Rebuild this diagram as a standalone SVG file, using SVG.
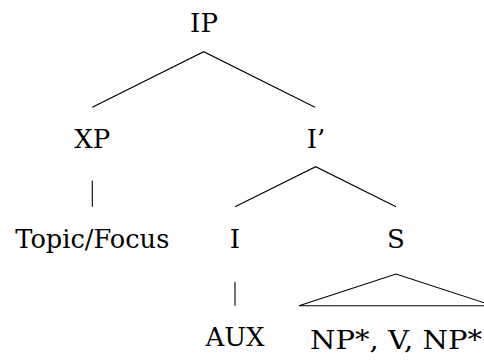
<svg xmlns="http://www.w3.org/2000/svg" width="484" height="360" viewBox="0 0 484 360">
<defs>
<style>
.t{font-family:'DejaVu Serif',serif;font-size:26px;fill:#000;text-anchor:middle}
.e{stroke:#000;stroke-width:1.1;fill:none}
</style>
</defs>
<rect width="484" height="360" fill="#fff"/>
<g id="connectors">
<path class="e" d="M92.3,107.3 L203.7,51.7 L315,107.3"/>
<path class="e" d="M235,206.7 L315.7,166.7 L396,206.7"/>
<path class="e" d="M92.3,180.5 V206.7"/>
<path class="e" d="M235,281.7 V305.7"/>
<path class="e" d="M299,305.7 L396,274 L493,305.7 Z"/>
</g>
<g id="IP"><text class="t" x="204" y="31.7">IP</text></g>
<g id="XP"><text class="t" x="92.3" y="148">XP</text></g>
<g id="Ibar"><text class="t" x="316" y="148">I’</text></g>
<g id="TopicFocus"><text class="t" x="92.3" y="248" textLength="154" lengthAdjust="spacingAndGlyphs">Topic/Focus</text></g>
<g id="I"><text class="t" x="235" y="248">I</text></g>
<g id="S"><text class="t" x="396" y="248">S</text></g>
<g id="AUX"><text class="t" x="235" y="346">AUX</text></g>
<g id="NPVNP"><text class="t" x="396" y="349.3" textLength="172" lengthAdjust="spacingAndGlyphs">NP*, V, NP*</text></g>
</svg>
